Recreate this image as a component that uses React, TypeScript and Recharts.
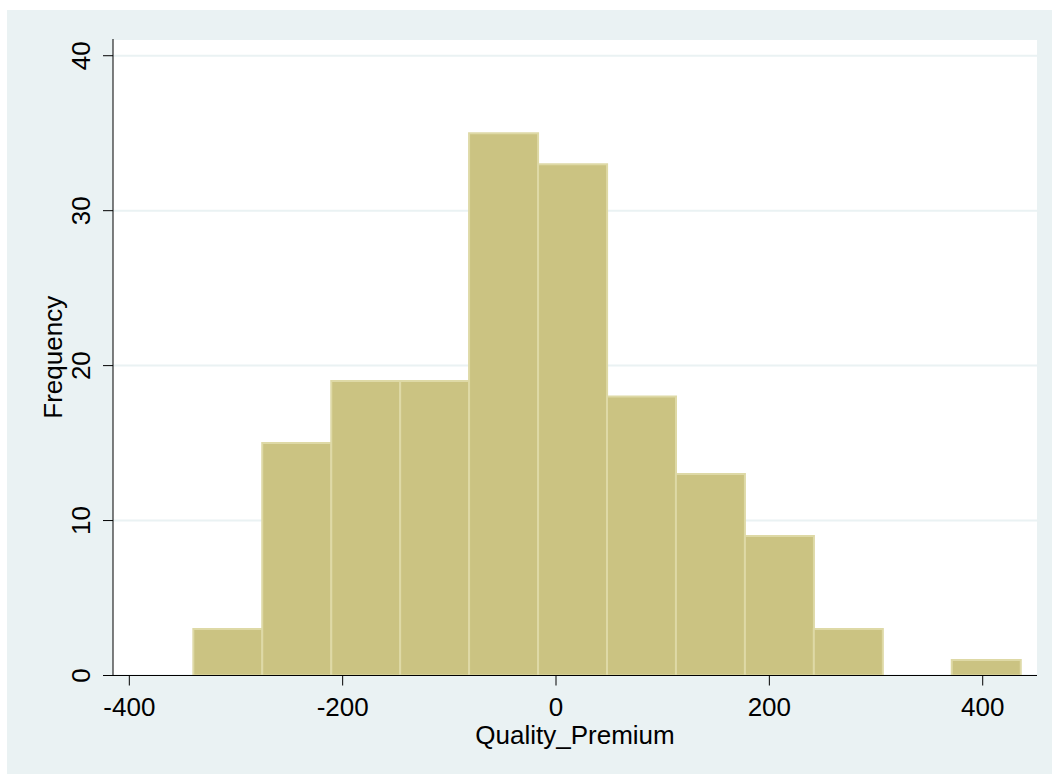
import { Bar, BarChart, CartesianGrid, XAxis, YAxis } from "recharts";

// histogram of Quality_Premium, 12 bins (centres)
const binCenters = [-307.7, -243.1, -178.4, -113.8, -49.2, 15.5, 80.1, 144.7, 209.4, 274.0, 338.7, 403.3];
const frequencies = [3, 15, 19, 19, 35, 33, 18, 13, 9, 3, 0, 1];
const xTicks = [-400, -200, 0, 200, 400];
const yTicks = [0, 10, 20, 30, 40];

const data = binCenters.map((x, i) => ({ x, freq: frequencies[i] }));

const FONT = "'Liberation Sans', Arial, Helvetica, sans-serif";

const RotatedTick = ({ x, y, payload }: any) => (
    <text
        x={x - 13}
        y={y}
        transform={`rotate(-90, ${x - 13}, ${y})`}
        textAnchor="middle"
        fontSize={26}
        fontFamily={FONT}
        fill="#000"
    >
        {payload.value}
    </text>
);

const App = () => {
    return (
        <div
            style={{
                position: "absolute",
                left: 7,
                top: 10,
                width: 1045,
                height: 764,
                background: "#EAF2F3",
            }}
        >
            <BarChart
                width={1045}
                height={764}
                data={data}
                barCategoryGap={0}
                barGap={0}
                margin={{ top: 29, right: 15, left: 26, bottom: 28.5 }}
            >
                <CartesianGrid vertical={false} stroke="#EAF2F3" strokeWidth={2} fill="#ffffff" fillOpacity={1} />
                <Bar
                    dataKey="freq"
                    fill="#CBC382"
                    stroke="#DED9A6"
                    strokeWidth={2}
                    isAnimationActive={false}
                />
                <XAxis
                    type="number"
                    dataKey="x"
                    domain={[-415.3, 450.9]}
                    ticks={xTicks}
                    allowDataOverflow
                    height={70}
                    tickSize={10}
                    tickMargin={12}
                    stroke="#000"
                    tick={{ fill: "#000", fontSize: 26, fontFamily: FONT }}
                    label={{
                        value: "Quality_Premium",
                        position: "insideBottom",
                        offset: 2,
                        fill: "#000",
                        fontSize: 26,
                        fontFamily: FONT,
                    }}
                />
                <YAxis
                    type="number"
                    domain={[0, 41.08]}
                    ticks={yTicks}
                    allowDataOverflow
                    width={80}
                    tickSize={10}
                    tickMargin={0}
                    stroke="#000"
                    tick={<RotatedTick />}
                    label={{
                        value: "Frequency",
                        position: "insideLeft",
                        angle: -90,
                        offset: 20,
                        fill: "#000",
                        fontSize: 26,
                        fontFamily: FONT,
                        style: { textAnchor: "middle" },
                    }}
                />
            </BarChart>
        </div>
    );
};

export default App;
